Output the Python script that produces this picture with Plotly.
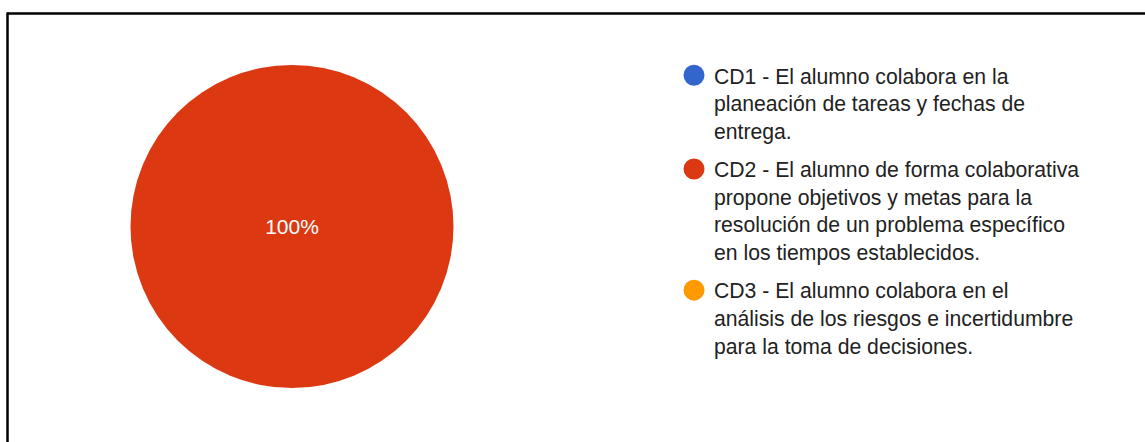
import plotly.graph_objects as go

# ---- data ----
labels = [
    "CD1 - El alumno colabora en la<br>planeación de tareas y fechas de<br>entrega.",
    "CD2 - El alumno de forma colaborativa<br>propone objetivos y metas para la<br>resolución de un problema específico<br>en los tiempos establecidos.",
    "CD3 - El alumno colabora en el<br>análisis de los riesgos e incertidumbre<br>para la toma de decisiones.",
]
values = [0, 1, 0]
colors = ["#3366CC", "#DC3912", "#FF9900"]

W, H = 1145, 442
FONT = "Arial, Liberation Sans, sans-serif"

fig = go.Figure()

texttemplates = ["%{percent}" if v > 0 else "" for v in values]

fig.add_trace(go.Pie(
    labels=labels,
    values=values,
    marker=dict(colors=colors, line=dict(width=0)),
    sort=False,
    direction="clockwise",
    texttemplate=texttemplates,
    textposition="inside",
    insidetextfont=dict(color="white", size=21, family=FONT),
    showlegend=False,
    hoverinfo="label+percent",
    domain=dict(x=[(292 - 161.5) / W, (292 + 161.5) / W],
                y=[(H - 388) / H, (H - 65) / H]),
))

# legend entries (circle symbols)
for i, (lab, col) in enumerate(zip(labels, colors)):
    fig.add_trace(go.Scatter(
        x=[None], y=[None], mode="markers", name=lab,
        legendgroup="g%d" % i,
        marker=dict(symbol="circle", size=16, color=col,
                    line=dict(color=col, width=5)),
        showlegend=True,
    ))

# frame lines
fig.add_shape(type="line", xref="paper", yref="paper",
              x0=7 / W, x1=1.0, y0=1 - 13.5 / H, y1=1 - 13.5 / H,
              line=dict(color="black", width=2.5))
fig.add_shape(type="line", xref="paper", yref="paper",
              x0=7.5 / W, x1=7.5 / W, y0=1 - 12.5 / H, y1=0,
              line=dict(color="black", width=2.5))

fig.update_layout(
    width=W, height=H, autosize=False,
    margin=dict(l=0, r=0, t=0, b=0),
    paper_bgcolor="white", plot_bgcolor="white",
    xaxis=dict(visible=False), yaxis=dict(visible=False),
    legend=dict(
        x=674 / W, xanchor="left",
        y=1 - 55 / H, yanchor="top",
        font=dict(family=FONT, size=21.2, color="#222222"),
        valign="top", itemsizing="trace",
        tracegroupgap=8,
        bgcolor="rgba(0,0,0,0)", borderwidth=0,
        itemclick=False, itemdoubleclick=False,
    ),
)

fig.write_html("out.html",
               config={"displayModeBar": False},
               post_script="document.body.style.margin='0';document.body.style.padding='0';")
